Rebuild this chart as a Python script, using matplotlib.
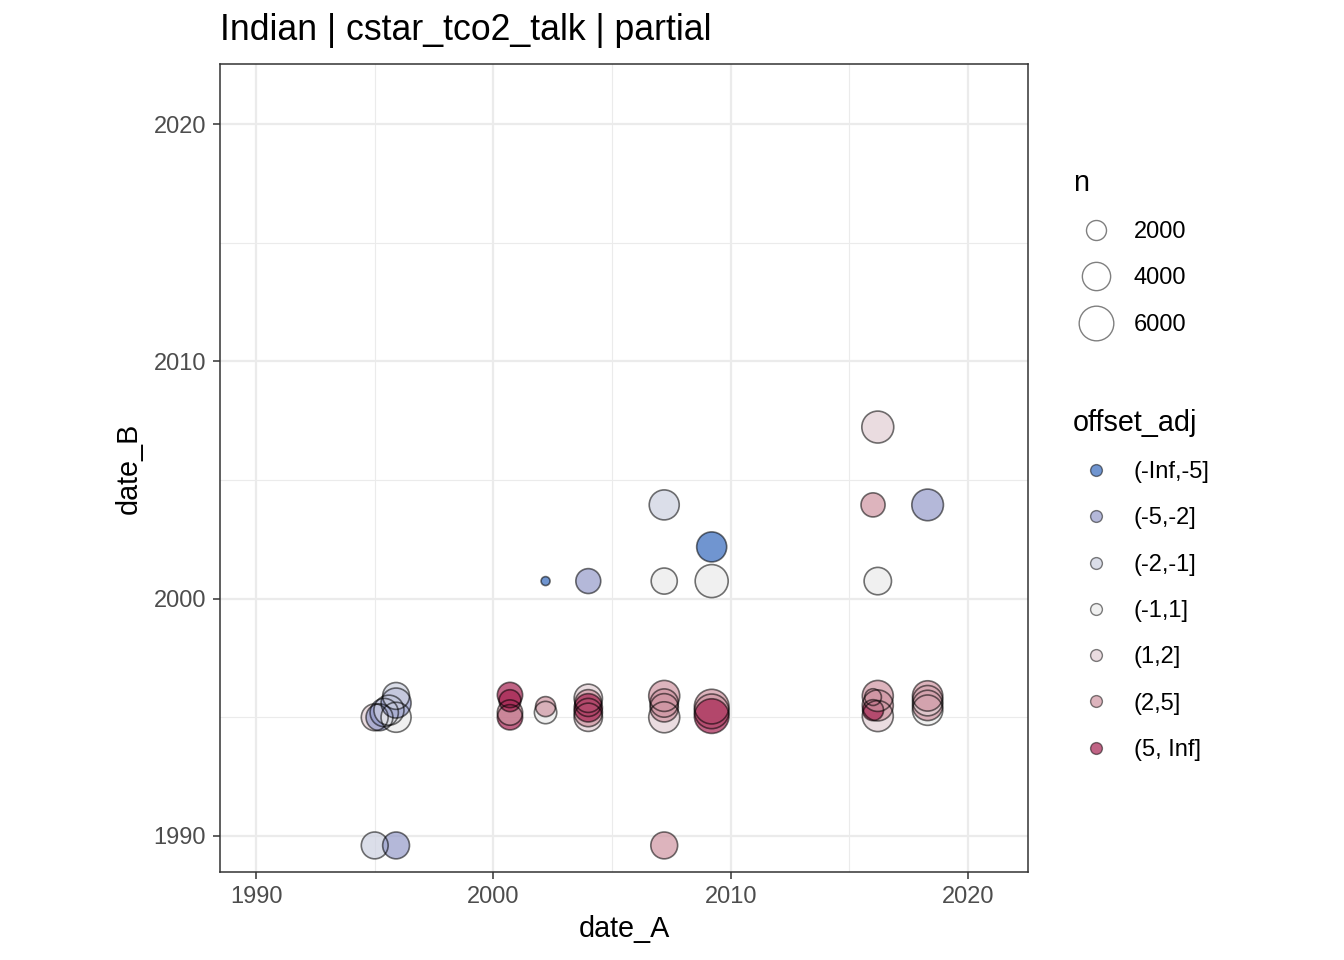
import matplotlib
matplotlib.use("Agg")
import matplotlib.pyplot as plt
from matplotlib.lines import Line2D
import numpy as np

plt.rcParams['font.family'] = ['Liberation Sans', 'DejaVu Sans']

# data (decimal years)
date_A = [1995.0, 1995.2, 1995.4, 1995.6, 1995.9, 1995.9, 1995.9,
          2000.7, 2000.7, 2000.7, 2000.7,
          2002.2, 2002.2,
          2004.0, 2004.0, 2004.0, 2004.0, 2004.0,
          2007.2, 2007.2, 2007.2, 2007.2,
          2009.2, 2009.2, 2009.2,
          2016.2, 2016.0, 2016.2, 2016.0, 2016.2,
          2018.3, 2018.3, 2018.3, 2018.3,
          1995.0, 1995.9, 2007.2,
          2002.2, 2004.0, 2007.2, 2007.2, 2009.2, 2009.2,
          2016.2, 2016.0, 2018.3, 2016.2]
date_B = [1995.0, 1995.0, 1995.2, 1995.3, 1995.0, 1995.6, 1995.9,
          1995.0, 1995.2, 1995.94, 1995.7,
          1995.2, 1995.45,
          1995.0, 1995.2, 1995.8, 1995.6, 1995.4,
          1995.0, 1995.4, 1995.6, 1995.9,
          1995.45, 1995.25, 1995.05,
          1995.05, 1995.85, 1995.5, 1995.3, 1995.9,
          1995.3, 1995.5, 1995.7, 1995.9,
          1989.6, 1989.6, 1989.6,
          2000.74, 2000.74, 2003.95, 2000.74, 2002.18, 2000.74,
          2007.23, 2003.95, 2003.95, 2000.74]
n = [3600, 3600, 4000, 4500, 4500, 4500, 3600,
     3200, 3200, 3200, 2400,
     2500, 2000,
     4000, 4000, 4000, 3600, 4000,
     4800, 4000, 4000, 4800,
     6000, 6000, 6000,
     4800, 1400, 4800, 2200, 4800,
     4600, 4600, 4600, 4600,
     3600, 3600, 3600,
     400, 3100, 4500, 3400, 4500, 5450,
     5100, 2900, 5000, 3750]
offset_adj = [4, 1, 1, 2, 3, 1, 2,
              6, 5, 6, 6,
              3, 5,
              4, 5, 4, 5, 6,
              4, 5, 5, 5,
              5, 5, 6,
              4, 5, 5, 6, 5,
              3, 5, 4, 5,
              2, 1, 5,
              0, 1, 2, 3, 0, 3,
              4, 5, 1, 3]

offset_levels = ['(-Inf,-5]', '(-5,-2]', '(-2,-1]', '(-1,1]', '(1,2]', '(2,5]', '(5, Inf]']
offset_colors = ['#3369BC', '#949BCA', '#CDD0E1', '#EAEAEA', '#E2CED3', '#CF95A2', '#A62351']
n_breaks = [2000, 4000, 6000]

def diam_pt(v):
    # area-proportional point size, 2000 -> ~20 px diameter
    return 14.4 * np.sqrt(np.asarray(v, dtype=float) / 2000.0)

fig = plt.figure(figsize=(13.44, 9.6), dpi=100)
ax = fig.add_axes([220/1344, 1 - 872/960, 808/1344, 808/960])

cols = [offset_colors[i] for i in offset_adj]
ax.scatter(date_A, date_B, s=diam_pt(n)**2, c=cols, alpha=0.7,
           edgecolors='none', zorder=3)
ax.scatter(date_A, date_B, s=diam_pt(n)**2, facecolors='none',
           edgecolors=(0, 0, 0, 0.55), linewidths=1.2, zorder=3)

lim = (1988.48, 2022.53)
ax.set_xlim(lim)
ax.set_ylim(lim)
ticks = [1990, 2000, 2010, 2020]
ax.set_xticks(ticks)
ax.set_yticks(ticks)
ax.set_xticks([1995, 2005, 2015], minor=True)
ax.set_yticks([1995, 2005, 2015], minor=True)
ax.grid(which='major', color='#EBEBEB', linewidth=1.6, zorder=0)
ax.grid(which='minor', color='#EBEBEB', linewidth=0.8, zorder=0)
ax.set_axisbelow(True)
ax.tick_params(which='major', length=5, width=1.1, color='#333333',
               labelsize=17, labelcolor='#4D4D4D')
ax.tick_params(axis='y', which='major', pad=5)
ax.tick_params(axis='x', which='major', pad=5)
ax.tick_params(which='minor', length=0)
for sp in ax.spines.values():
    sp.set_color('#333333')
    sp.set_linewidth(1.1)

ax.set_xlabel('date_A', fontsize=20.7, labelpad=5)
ax.set_ylabel('date_B', fontsize=20.7, labelpad=8)
ax.set_title('Indian | cstar_tco2_talk | partial', fontsize=25.7, loc='left', pad=17)

# legends
size_handles = [Line2D([], [], marker='o', linestyle='', markersize=diam_pt(b),
                       markerfacecolor='none', markeredgecolor=(0, 0, 0, 0.5),
                       markeredgewidth=1.0) for b in n_breaks]
leg1 = fig.legend(size_handles, [str(b) for b in n_breaks], title='n',
                  loc='upper left', bbox_to_anchor=(1061/1344, 1 - 157/960),
                  frameon=False, alignment='left', fontsize=17, title_fontsize=20.7,
                  labelspacing=1.03, handlelength=1.95, handletextpad=0.63, borderpad=0)

col_handles = [Line2D([], [], marker='o', linestyle='', markersize=8.5,
                      markerfacecolor=matplotlib.colors.to_rgba(c, 0.7),
                      markeredgecolor=(0, 0, 0, 0.5),
                      markeredgewidth=1.0) for c in offset_colors]
leg2 = fig.legend(col_handles, offset_levels, title='offset_adj',
                  loc='upper left', bbox_to_anchor=(1061/1344, 1 - 397/960),
                  frameon=False, alignment='left', fontsize=17, title_fontsize=20.7,
                  labelspacing=1.03, handlelength=1.95, handletextpad=0.63, borderpad=0)

fig.savefig('out.png', dpi=100)
